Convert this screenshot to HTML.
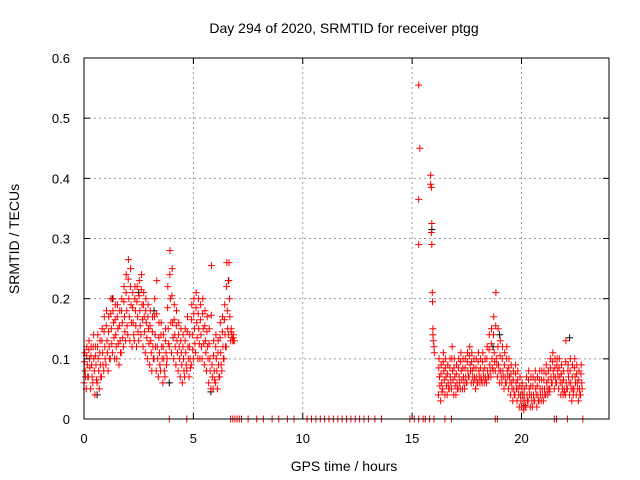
<!DOCTYPE html>
<html><head><meta charset="utf-8"><style>
body{margin:0;background:#fff}
svg{display:block;font-family:"Liberation Sans",sans-serif}
</style></head><body>
<svg id="chart" width="640" height="480">
<g id="grid"></g>
<g id="pts"></g>
<rect x="84" y="58" width="525" height="361" fill="none" stroke="#000"/>
<g id="ticks"></g>
<text x="344" y="33" text-anchor="middle" font-size="14">Day 294 of 2020, SRMTID for receiver ptgg</text>
<text x="344" y="471" text-anchor="middle" font-size="14">GPS time / hours</text>
<text transform="translate(19,239) rotate(-90)" text-anchor="middle" font-size="14">SRMTID / TECUs</text>
</svg>
<script>
const xTicks=[0,5,10,15,20];
const yTicks=[0,0.1,0.2,0.3,0.4,0.5,0.6];
const yTickLabels=["0","0.1","0.2","0.3","0.4","0.5","0.6"];
const tA=[0,0.1,0.2,0.3,0.4,0.5,0.6,0.7,0.8,0.9,1.0,1.1,1.2,1.3,1.4,1.5,1.6,1.7,1.8,1.9,2.0,2.1,2.2,2.3,2.4,2.5,2.6,2.7,2.8,2.9,3.0,3.1,3.2,3.3,3.4,3.5,3.6,3.7,3.8,3.9,4.0,4.1,4.2,4.3,4.4,4.5,4.6,4.7,4.8,4.9,5.0,5.1,5.2,5.3,5.4,5.5,5.6,5.7,5.8,5.9,6.0,6.1,6.2,6.3,6.4,6.5,6.6,6.7,6.8];
const midA=[.08,.09,.1,.09,.1,.09,.1,.09,.11,.12,.13,.12,.15,.16,.14,.15,.13,.16,.17,.18,.2,.19,.16,.18,.17,.18,.19,.17,.16,.15,.13,.12,.14,.12,.11,.12,.1,.11,.15,.2,.16,.14,.13,.12,.11,.1,.11,.12,.1,.14,.15,.16,.15,.14,.15,.13,.12,.1,.09,.08,.1,.09,.11,.12,.14,.18,.2,.14,.13];
const loA=[.06,.05,.07,.05,.06,.04,.06,.05,.07,.08,.09,.08,.1,.11,.1,.1,.09,.11,.12,.13,.14,.13,.12,.13,.12,.13,.14,.12,.11,.1,.09,.08,.1,.08,.07,.08,.06,.07,.1,.12,.11,.1,.09,.08,.07,.06,.07,.08,.07,.09,.1,.11,.1,.1,.1,.09,.08,.06,.05,.05,.06,.05,.07,.08,.1,.12,.14,.13,.13];
const hiA=[.11,.12,.13,.12,.14,.12,.14,.13,.15,.17,.18,.17,.2,.2,.19,.19,.18,.2,.22,.24,.265,.25,.21,.22,.22,.23,.24,.21,.2,.19,.18,.17,.2,.23,.16,.16,.14,.15,.22,.28,.25,.19,.18,.16,.15,.14,.15,.17,.14,.19,.2,.21,.2,.19,.2,.18,.17,.15,.255,.13,.14,.13,.16,.17,.19,.26,.26,.15,.14];
const tB=[16.2,16.3,16.4,16.5,16.6,16.7,16.8,16.9,17.0,17.1,17.2,17.3,17.4,17.5,17.6,17.7,17.8,17.9,18.0,18.1,18.2,18.3,18.4,18.5,18.6,18.7,18.8,18.9,19.0,19.1,19.2,19.3,19.4,19.5,19.6,19.7,19.8,19.9,20.0,20.1,20.2,20.3,20.4,20.5,20.6,20.7,20.8,20.9,21.0,21.1,21.2,21.3,21.4,21.5,21.6,21.7,21.8,21.9,22.0,22.1,22.2,22.3,22.4,22.5,22.6,22.7];
const midB=[.07,.06,.08,.07,.06,.07,.08,.07,.06,.07,.08,.07,.07,.08,.09,.08,.07,.07,.08,.07,.08,.07,.08,.09,.1,.11,.1,.09,.08,.08,.07,.08,.07,.06,.05,.06,.05,.04,.04,.03,.04,.05,.04,.04,.05,.04,.05,.05,.05,.06,.05,.07,.08,.07,.08,.07,.06,.05,.06,.07,.06,.05,.07,.06,.05,.06];
const loB=[.04,.03,.05,.04,.04,.05,.05,.04,.04,.05,.05,.05,.05,.06,.07,.06,.06,.05,.06,.06,.06,.06,.06,.07,.07,.08,.08,.07,.06,.06,.05,.06,.05,.04,.03,.04,.03,.02,.02,.015,.02,.03,.02,.02,.03,.02,.03,.03,.03,.04,.04,.05,.06,.05,.06,.05,.04,.04,.04,.05,.04,.03,.05,.04,.03,.04];
const hiB=[.1,.09,.11,.1,.09,.1,.12,.1,.09,.1,.11,.1,.1,.11,.12,.11,.1,.1,.11,.1,.11,.1,.12,.14,.15,.17,.21,.15,.13,.12,.11,.12,.1,.09,.08,.09,.08,.07,.06,.05,.07,.08,.07,.07,.08,.07,.08,.08,.08,.09,.08,.1,.11,.1,.1,.1,.09,.08,.13,.09,.1,.09,.1,.09,.08,.09];
const tSpike=[15.3,15.35,15.3,15.3,15.85,15.85,15.88,15.9,15.88,15.9,15.92,15.93,15.95,15.95,15.97,16.0,16.02];
const vSpike=[.555,.45,.365,.29,.405,.39,.385,.325,.31,.29,.21,.195,.15,.14,.13,.12,.11];
const tZero=[3.9,4.7,6.7,6.8,6.9,7.0,7.1,7.2,7.5,7.9,8.2,8.6,8.9,9.3,9.6,10.2,10.4,10.6,10.8,11.0,11.2,11.4,11.6,11.8,12.0,12.2,12.4,12.6,12.8,13.0,13.3,13.6,14.9,15.1,15.3,15.5,15.6,15.8,16.0,16.5,16.8,18.8,18.9,21.5,21.6,22.1,22.8];
const tBlack=[0.6,1.3,2.5,3.2,3.9,5.8,6.6,15.9,18.7,19.0,20.1,22.2];
const vBlack=[.04,.2,.21,.18,.06,.045,.23,.315,.12,.14,.02,.135];

const X0=84,X1=609,Y0=419,Y1=58;
const xs=t=>X0+t/24*(X1-X0);
const ys=v=>Y0-v/0.6*(Y0-Y1);
const NS="http://www.w3.org/2000/svg";
const grid=document.getElementById('grid'),ticks=document.getElementById('ticks'),pts=document.getElementById('pts');
function mk(tag,attrs,parent){const e=document.createElementNS(NS,tag);for(const k in attrs)e.setAttribute(k,attrs[k]);parent.appendChild(e);return e;}
xTicks.forEach(t=>{const x=xs(t);
 if(t>0){const g=mk('line',{x1:x,x2:x,y1:Y0,y2:Y1,stroke:'#999','stroke-dasharray':'2,3'},grid);
 
 }
 mk('line',{x1:x,x2:x,y1:Y0,y2:Y0-6,stroke:'#000'},ticks);mk('line',{x1:x,x2:x,y1:Y1,y2:Y1+6,stroke:'#000'},ticks);
 const l=mk('text',{x:x,y:443,'text-anchor':'middle','font-size':13},ticks);l.textContent=t;
 
 });
yTicks.forEach((v,i)=>{const y=ys(v);
 if(v>0&&v<0.6){const g=mk('line',{x1:X0,x2:X1,y1:y,y2:y,stroke:'#999','stroke-dasharray':'2,3'},grid);
 
 }
 mk('line',{x1:X0,x2:X0+6,y1:y,y2:y,stroke:'#000'},ticks);mk('line',{x1:X1,x2:X1-6,y1:y,y2:y,stroke:'#000'},ticks);
 const l=mk('text',{x:70,y:y+5,'text-anchor':'end','font-size':13},ticks);l.textContent=yTickLabels[i];
 
 });
let d={red:'',black:''};
function plus(t,v,c){const x=xs(t).toFixed(1),y=ys(v).toFixed(1);d[c]+=`M${x-3.5} ${y}h7M${x} ${y-3.5}v7`;}
tBlack.forEach((t,i)=>plus(t,vBlack[i],'black'));
tA.forEach((t,i)=>{plus(t,loA[i],'red');plus(t+0.05,midA[i],'red');plus(t+0.03,hiA[i],'red');plus(t+0.07,(loA[i]+midA[i])/2,'red');plus(t+0.02,(hiA[i]+midA[i])/2,'red');});
tB.forEach((t,i)=>{plus(t,loB[i],'red');plus(t+0.05,midB[i],'red');plus(t+0.03,hiB[i],'red');plus(t+0.07,(loB[i]+midB[i])/2,'red');plus(t+0.02,(hiB[i]+midB[i])/2,'red');});
tSpike.forEach((t,i)=>plus(t,vSpike[i],'red'));
tZero.forEach(t=>plus(t,0,'red'));
const pb=mk('path',{d:d.black,stroke:'#000','stroke-width':1,fill:'none'},pts);


const pr=mk('path',{d:d.red,stroke:'#f00','stroke-width':1,fill:'none'},pts);


</script>
</body></html>
